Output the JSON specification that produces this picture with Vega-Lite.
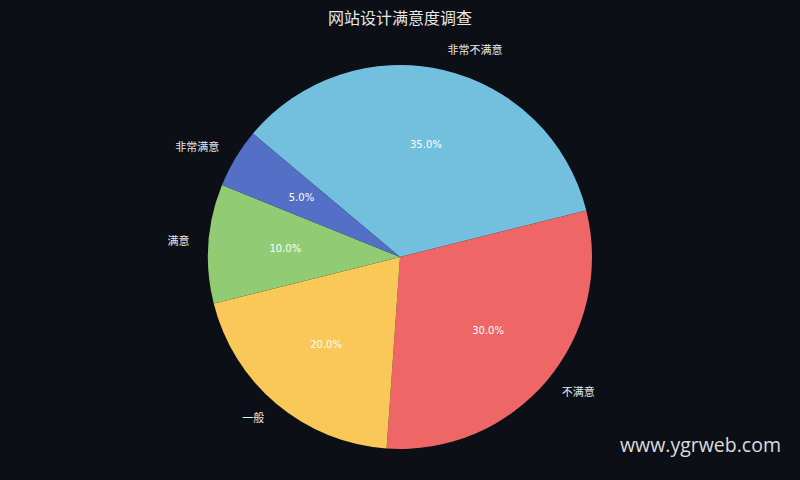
{
  "$schema": "https://vega.github.io/schema/vega-lite/v6.json",
  "autosize": "none",
  "width": 800,
  "height": 446,
  "padding": {"top": 34, "left": 0, "right": 0, "bottom": 0},
  "background": "#0c0f16",
  "title": {
    "text": "网站设计满意度调查",
    "font": "Noto Sans CJK SC",
    "fontSize": 16,
    "fontWeight": "normal",
    "color": "#e8e8e8",
    "anchor": "middle",
    "baseline": "middle",
    "frame": "group",
    "offset": -1
  },
  "config": {"view": {"stroke": null}},
  "data": {
    "values": [
      {"category": "非常不满意", "value": 35, "order": 1, "side": "right"},
      {"category": "不满意", "value": 30, "order": 2, "side": "right"},
      {"category": "一般", "value": 20, "order": 3, "side": "left"},
      {"category": "满意", "value": 10, "order": 4, "side": "left"},
      {"category": "非常满意", "value": 5, "order": 5, "side": "left"}
    ]
  },
  "transform": [{"calculate": "format(datum.value / 100, '.1%')", "as": "pct"}],
  "encoding": {
    "theta": {"field": "value", "type": "quantitative", "stack": true, "scale": {"range": [5.41052, 11.69371]}},
    "order": {"field": "order", "type": "ordinal"},
    "color": {
      "field": "category",
      "type": "nominal",
      "legend": null,
      "scale": {
        "domain": ["非常不满意", "不满意", "一般", "满意", "非常满意"],
        "range": ["#73c0de", "#ee6666", "#fac858", "#91cc75", "#5470c6"]
      }
    }
  },
  "layer": [
    {"mark": {"type": "arc", "outerRadius": 192}},
    {
      "mark": {"type": "text", "radius": 115, "fontSize": 10, "font": "DejaVu Sans", "baseline": "middle"},
      "encoding": {"text": {"field": "pct"}, "color": {"value": "#ffffff"}}
    },
    {
      "mark": {"type": "text", "radius": 211, "fontSize": 11, "font": "Noto Sans CJK SC", "align": "left", "baseline": "middle"},
      "encoding": {"text": {"condition": {"test": "datum.side === 'right'", "field": "category"}, "value": ""}, "color": {"value": "#e8e8e8"}}
    },
    {
      "mark": {"type": "text", "radius": 211, "fontSize": 11, "font": "Noto Sans CJK SC", "align": "right", "baseline": "middle"},
      "encoding": {"text": {"condition": {"test": "datum.side === 'left'", "field": "category"}, "value": ""}, "color": {"value": "#e8e8e8"}}
    },
    {
      "data": {"values": [{"mark": "www.ygrweb.com"}]},
      "mark": {"type": "text", "x": {"expr": "width - 19"}, "y": {"expr": "height - 34"}, "align": "right", "baseline": "middle", "fontSize": 19.5, "font": "Open Sans", "color": "#dcdcdc"},
      "encoding": {"text": {"field": "mark"}, "theta": null, "order": null, "color": {"value": "#dcdcdc"}}
    }
  ]
}
